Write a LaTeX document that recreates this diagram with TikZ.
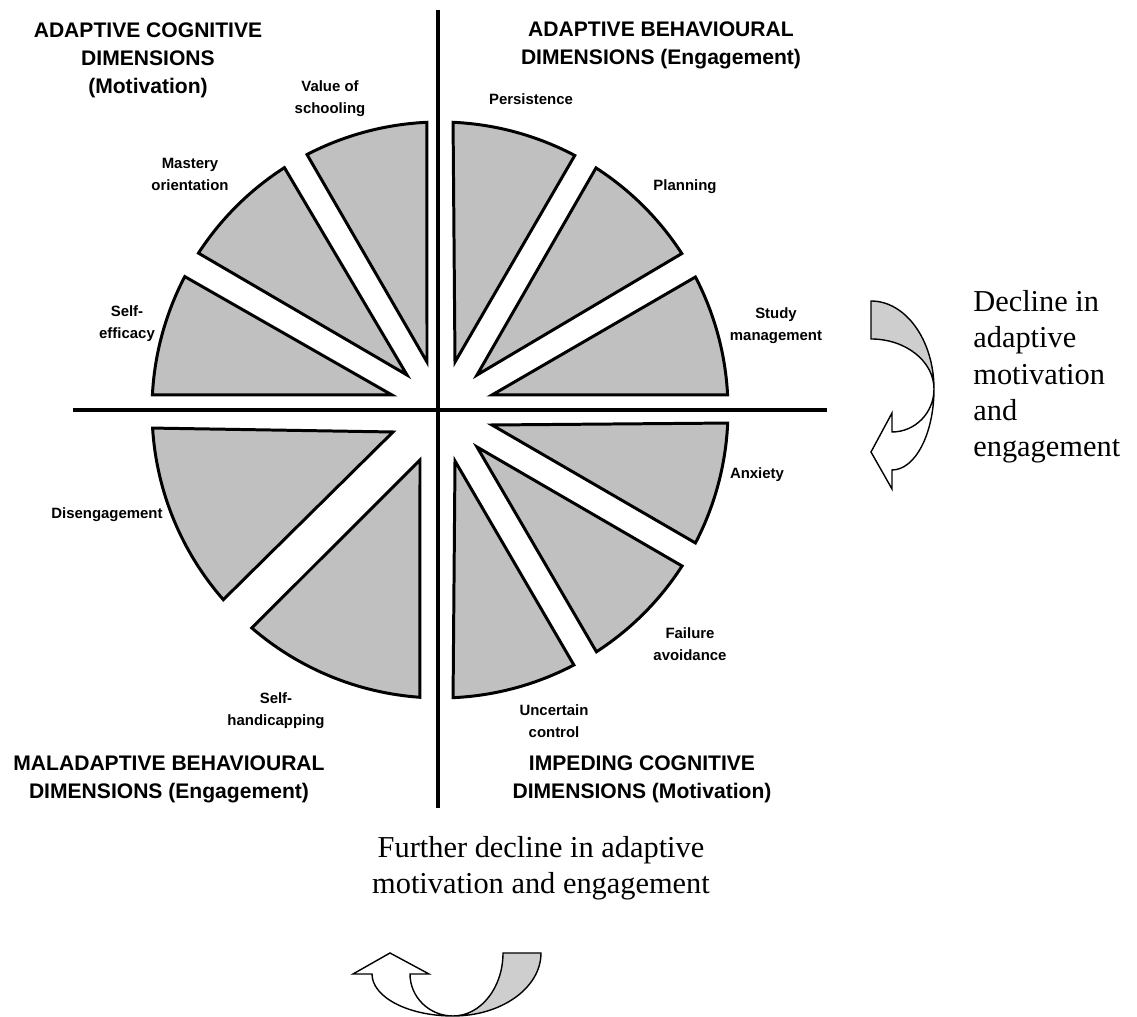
\documentclass[tikz,border=0pt]{standalone}
\usepackage{fontspec}
\setmainfont{Liberation Serif}
\setsansfont{Liberation Sans}
\usetikzlibrary{calc}

\definecolor{wedgegray}{RGB}{192,192,192}
\definecolor{tailgray}{RGB}{206,206,206}
\newcommand{\lblfont}{\sffamily\bfseries\fontsize{8.5}{12.5}\selectfont}
\newcommand{\dimfont}{\sffamily\bfseries\fontsize{12}{15.9}\selectfont}
\newcommand{\notefont}{\rmfamily\fontsize{17.3}{20.7}\selectfont}

\begin{document}
\begin{tikzpicture}[
  x=0.02cm,
  y=0.02cm,
  wedge/.style={draw, line width=1.7pt, fill=wedgegray, line join=miter},
  axis/.style={line width=2.5pt},
  lbl/.style={font=\lblfont, align=center, inner sep=0pt},
  dim/.style={font=\dimfont, align=center, inner sep=0pt},
  note/.style={font=\notefont, inner sep=0pt},
  turnarrow/.pic={
    \draw[line width=0.8pt, fill=tailgray] (50,63) -- (88,63)
      arc[start angle=0, end angle=-90, x radius=88, y radius=63]
      arc[start angle=-90, end angle=0, x radius=50, y radius=63] -- cycle;
    \draw[line width=0.8pt, fill=white] (-43,42) -- (-24,42) -- (-63,63) -- (-100,42) -- (-81,42)
      arc[start angle=180, end angle=270, x radius=81, y radius=42]
      arc[start angle=270, end angle=180, x radius=43, y radius=42] -- cycle;
  }
]

\useasboundingbox (0,0) rectangle (1137,1017);
\coordinate (C) at (440,607);

% the eleven wedges: apex x/y, start and end angle of the rim
\foreach \ax/\ay/\aa/\ab in {427/655/92.6/117.5, 407/642/122.7/147, 392/622/152.4/177,
    455/655/62.1/87.4, 477/642/32.9/57.2, 492/622/3/27.5,
    492/592/-27.5/-2.6, 477/570/-57.1/-32.8, 455/556/-87.4/-62.3,
    393/585/183.6/221.2, 420/557/229.2/266}
  \draw[wedge] (\ax,\ay) -- ([shift={(\aa:288)}]C) arc[start angle=\aa, end angle=\ab, radius=288] -- cycle;

\draw[axis] (438,1007) -- (438,209);
\draw[axis] (73,607) -- (827,607);

\node[dim] (adaptCog) at (148,957) {ADAPTIVE COGNITIVE\\DIMENSIONS\\(Motivation)};
\node[dim] (adaptBeh) at (661,972) {ADAPTIVE BEHAVIOURAL\\DIMENSIONS (Engagement)};
\node[dim] (maladaptBeh) at (169,238) {MALADAPTIVE BEHAVIOURAL\\DIMENSIONS (Engagement)};
\node[dim] (impedCog) at (642,238) {IMPEDING COGNITIVE\\DIMENSIONS (Motivation)};

\node[lbl] (valSchool) at (330,918) {Value of\\schooling};
\node[lbl] (mastery) at (190,843) {Mastery\\orientation};
\node[lbl] (selfEff) at (127,693) {Self-\\efficacy};
\node[lbl] (persist) at (531,918) {Persistence};
\node[lbl] (planning) at (685,830) {Planning};
\node[lbl] (studyMan) at (776,691) {Study\\management};
\node[lbl] (anxiety) at (757,542) {Anxiety};
\node[lbl] (failAvoid) at (690,373) {Failure\\avoidance};
\node[lbl] (uncertCtrl) at (554,296) {Uncertain\\control};
\node[lbl] (disengage) at (107,502) {Disengagement};
\node[lbl] (selfHand) at (276,306) {Self-\\handicapping};

\node[note, anchor=west, align=left] (declineTxt) at (973,640) {Decline in\\adaptive\\motivation\\and\\engagement};
\node[note, align=center] (furtherTxt) at (541,149) {Further decline in adaptive\\motivation and engagement};

\pic[rotate=90] (declineArrow) at (934,628) {turnarrow};
\pic (furtherArrow) at (453,1) {turnarrow};

\end{tikzpicture}
\end{document}
